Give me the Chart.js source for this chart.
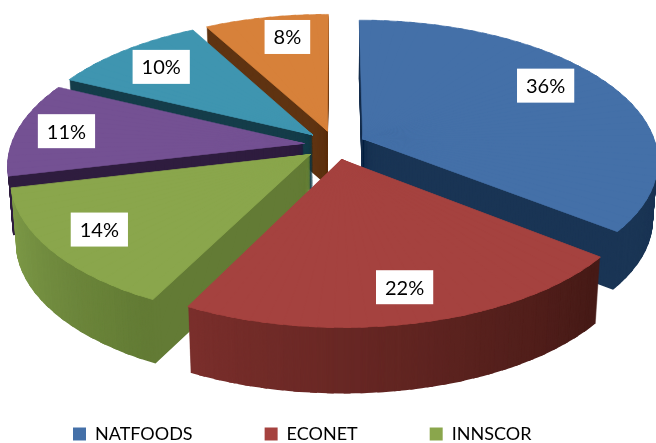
<!DOCTYPE html>
<html>
<head>
<meta charset="utf-8">
<script src="https://cdn.jsdelivr.net/npm/chart.js@4"></script>
<style>
html, body { margin: 0; padding: 0; background: #fff; }
canvas { display: block; }
</style>
</head>
<body>
<canvas id="pieChart" width="656" height="443"></canvas>
<script>
// only the first three legend names can be read, the rest are cut off in the picture
var categories = ['NATFOODS', 'ECONET', 'INNSCOR', 'Series 4', 'Series 5', 'Series 6'];
var shares = [36, 22, 14, 11, 10, 8];
var legendShown = 3;

var faceColors = ['#4470a8', '#a5423f', '#8aa64c', '#745193', '#3f95b0', '#d7813a'];
// wall colour at the start and at the end of each slice
var wallColors = [
    ['#18304f', '#1a3555'],
    ['#451a16', '#7b2f2c'],
    ['#627a34', '#7f9c49'],
    ['#2f1d3f', '#2f1d3f'],
    ['#153d4a', '#153d4a'],
    ['#5f3311', '#5f3311']
];
var explode = [60, 60, 60, 60, 60, 60];
var labelReach = [0.79, 0.81, 0.82, 0.83, 0.79, 0.8];
var labelTurn = [-0.1, -0.01, 0.02, 0, 0, 0.05];
var drawOrder = [5, 4, 3, 0, 2, 1];

// fake camera for the tilted pie
var pieX = 335, pieY = 145, radiusX = 293, radiusY = 138, persp = 0.15, baseDepth = 60;

function project(u, v) {
    var w = 1 - persp * v;
    return [pieX + radiusX * u / w, pieY + radiusY * v / w];
}

function mix(a, b, f) {
    var out = '#';
    for (var i = 1; i < 7; i += 2) {
        var x = parseInt(a.substr(i, 2), 16), y = parseInt(b.substr(i, 2), 16);
        out += ('0' + Math.round(x + (y - x) * f).toString(16)).slice(-2);
    }
    return out;
}

// Chart.js only draws round arcs, so each slice goes down as thin wedges,
// every wedge with its own affine transform taken from project()
function drawWedge(ctx, arc, s, e, lap, A, d, shift, fill) {
    var r = arc.outerRadius;
    var m = (arc.startAngle0 + arc.endAngle0) / 2;
    var ax = d * Math.cos(m), ay = d * Math.sin(m);
    var bx = Math.cos(s), by = Math.sin(s);
    var cx = Math.cos(e), cy = Math.sin(e);
    var B = project(ax + bx, ay + by), C = project(ax + cx, ay + cy);
    var det = bx * cy - by * cx;
    var m11 = ((B[0] - A[0]) * cy - (C[0] - A[0]) * by) / det;
    var m12 = ((C[0] - A[0]) * bx - (B[0] - A[0]) * cx) / det;
    var m21 = ((B[1] - A[1]) * cy - (C[1] - A[1]) * by) / det;
    var m22 = ((C[1] - A[1]) * bx - (B[1] - A[1]) * cx) / det;

    arc.startAngle = s;
    arc.endAngle = e + lap;
    arc.circumference = e + lap - s;
    // thin border on the top face hides the seams between wedges
    arc.options = Object.assign({}, arc.options0, {
        backgroundColor: fill,
        borderColor: fill,
        borderWidth: shift === 0 ? 0.5 : 0,
        offset: 0
    });
    ctx.save();
    // walls narrow a little going down
    var shrink = 1 - 0.00025 * shift;
    ctx.translate(pieX * (1 - shrink), shift);
    ctx.scale(shrink, 1);
    ctx.transform(m11 / r, m21 / r, m12 / r, m22 / r,
        A[0] - (m11 * arc.x + m12 * arc.y) / r,
        A[1] - (m21 * arc.x + m22 * arc.y) / r);
    arc.draw(ctx);
    ctx.restore();
}

function drawSlice(ctx, arc, i) {
    var s = arc.startAngle, e = arc.endAngle, c = arc.circumference, o = arc.options;
    arc.startAngle0 = s;
    arc.endAngle0 = e;
    arc.options0 = o;
    var d = (o.offset / 4) / arc.outerRadius;
    var m = (s + e) / 2;
    var A = project(d * Math.cos(m), d * Math.sin(m));
    var midV = d * Math.sin(m) + 0.5 * Math.sin(m);
    var depth = Math.round(baseDepth / (1 - persp * midV));
    var steps = Math.ceil((e - s) / 0.05);
    var step = (e - s) / steps;
    for (var k = depth; k >= 0; k--) {
        for (var j = 0; j < steps; j++) {
            var fill = k === 0 ? faceColors[i] : mix(wallColors[i][0], wallColors[i][1], (j + 0.5) / steps);
            drawWedge(ctx, arc, s + j * step, s + (j + 1) * step, j < steps - 1 ? 0.02 : 0, A, d, k, fill);
        }
    }
    arc.startAngle = s;
    arc.endAngle = e;
    arc.circumference = c;
    arc.options = o;
}

var tiltPlugin = {
    id: 'tilt',
    afterLayout: function (chart) {
        // legend.labels.padding also pads vertically, so put the box back by hand
        var box = chart.legend;
        var h = box.height;
        box.left = 1;
        box.top = 425 - 72;
        box.bottom = box.top + h;
    },
    beforeDatasetDraw: function () {
        return false;
    },
    afterDatasetsDraw: function (chart) {
        var ctx = chart.ctx;
        var arcs = chart.getDatasetMeta(0).data;
        drawOrder.forEach(function (i) {
            drawSlice(ctx, arcs[i], i);
        });
        // white label boxes
        ctx.font = '20px Lato';
        ctx.textAlign = 'center';
        ctx.textBaseline = 'middle';
        arcs.forEach(function (arc, i) {
            var d = (arc.options.offset / 4) / arc.outerRadius;
            var m = (arc.startAngle + arc.endAngle) / 2;
            var a = m + labelTurn[i];
            var p = project(d * Math.cos(m) + labelReach[i] * Math.cos(a), d * Math.sin(m) + labelReach[i] * Math.sin(a));
            var text = shares[i] + '%';
            var w = ctx.measureText(text).width + 18;
            ctx.fillStyle = '#fff';
            ctx.fillRect(p[0] - w / 2, p[1] - 17, w, 34);
            ctx.fillStyle = '#000';
            ctx.fillText(text, p[0], p[1] + 1);
        });
    }
};

new Chart(document.getElementById('pieChart').getContext('2d'), {
    type: 'pie',
    data: {
        labels: categories,
        datasets: [{
            data: shares,
            backgroundColor: faceColors,
            borderWidth: 0,
            offset: explode
        }]
    },
    options: {
        responsive: false,
        animation: false,
        plugins: {
            tooltip: { enabled: false },
            legend: {
                position: 'bottom',
                align: 'start',
                labels: {
                    boxWidth: 13,
                    boxHeight: 13,
                    padding: 72,
                    color: '#000',
                    font: { family: 'Lato', size: 18 },
                    filter: function (item) {
                        return item.index < legendShown;
                    }
                }
            }
        }
    },
    plugins: [tiltPlugin]
});
</script>
</body>
</html>
